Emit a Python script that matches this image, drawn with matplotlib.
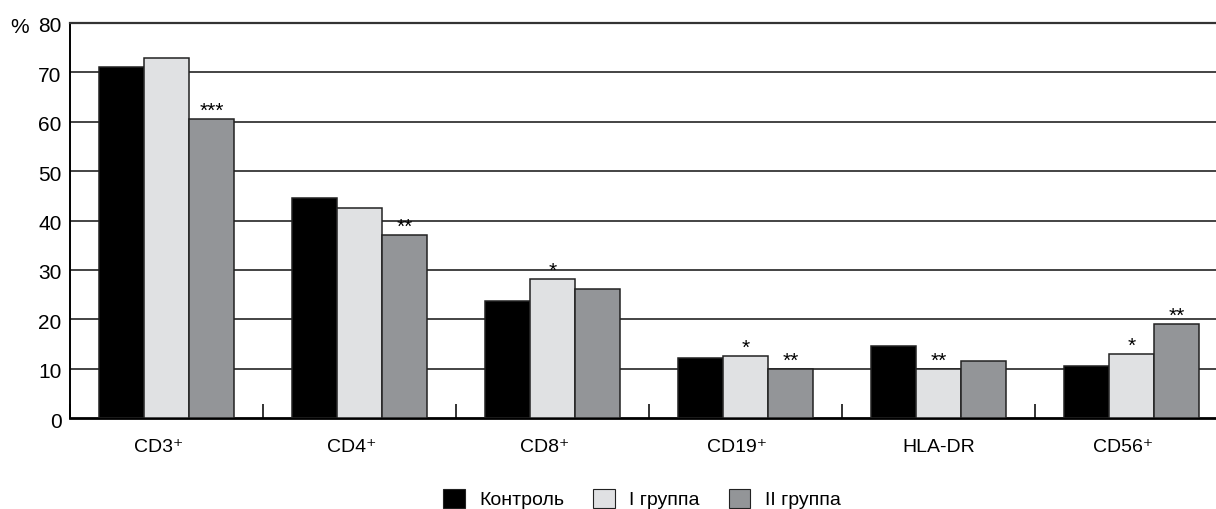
import matplotlib
matplotlib.use("Agg")
import matplotlib.pyplot as plt
import numpy as np
from matplotlib.patches import Patch
from matplotlib.transforms import ScaledTranslation

plt.rcParams['font.family'] = ['Liberation Sans Narrow', 'Liberation Sans', 'DejaVu Sans']

categories = ["CD3⁺", "CD4⁺", "CD8⁺", "CD19⁺", "HLA-DR", "CD56⁺"]
series_names = ["Контроль", "I группа", "II группа"]
control = [71.1, 44.6, 23.6, 12.2, 14.6, 10.6]
group1 = [73.0, 42.5, 28.1, 12.6, 10.0, 13.0]
group2 = [60.6, 37.0, 26.1, 10.0, 11.5, 19.0]
marks1 = ["", "", "*", "*", "**", "*"]
marks2 = ["***", "**", "", "**", "", "**"]
y_ticks = [0, 10, 20, 30, 40, 50, 60, 70, 80]

colors = ["#000000", "#e0e1e3", "#939598"]

W, H = 1216, 509
DPI = 100
fig = plt.figure(figsize=(W / DPI, H / DPI), dpi=DPI)
left_px, right_px, top_px, bottom_px = 70, 1216, 23, 418
ax = fig.add_axes([left_px / W, (H - bottom_px) / H,
                   (right_px - left_px) / W, (bottom_px - top_px) / H])


def px_shift(dx, dy):
    return ScaledTranslation(dx / DPI, dy / DPI, fig.dpi_scale_trans)


cat_w = 193.0
bar_w = 45.0 / cat_w
x = np.arange(len(categories)) + 0.5
series = [control, group1, group2]
for k, (vals, col) in enumerate(zip(series, colors)):
    ax.bar(x + (k - 1) * bar_w, vals, width=bar_w, color=col,
           edgecolor="#222222", linewidth=1.1, zorder=3)

# significance marks above the bars
for i in range(len(categories)):
    if marks1[i]:
        ax.text(x[i], group1[i], marks1[i], ha="center", va="baseline",
                fontsize=15, zorder=4, transform=ax.transData + px_shift(0, 2))
    if marks2[i]:
        ax.text(x[i] + bar_w, group2[i], marks2[i], ha="center",
                va="baseline", fontsize=15, zorder=4,
                transform=ax.transData + px_shift(0, 2))

ax.set_xlim(0, (right_px - left_px) / cat_w)
ax.set_ylim(0, 80)
ax.set_yticks(y_ticks)
ax.set_yticklabels([str(v) for v in y_ticks], fontsize=15)
ax.tick_params(axis="y", length=0, pad=6)
for lab in ax.get_yticklabels():
    lab.set_transform(lab.get_transform() + px_shift(0, -2))
for v in y_ticks[1:-1]:
    ax.axhline(v, color="#111111", linewidth=1.1, zorder=1)

# category boundary ticks and labels
ax.set_xticks(np.arange(0, len(categories)))
ax.set_xticklabels([])
ax.tick_params(axis="x", direction="in", length=10, width=1.2, color="#111111")
for i, c in enumerate(categories):
    dx = -8 if c.endswith("⁺") else 0
    ax.text(x[i], -6.9, c, ha="center", va="baseline", fontsize=14,
            transform=ax.transData + px_shift(dx, 0), clip_on=False)

ax.spines["right"].set_visible(False)
ax.spines["top"].set_color("#333333")
ax.spines["top"].set_linewidth(1.6)
ax.spines["left"].set_linewidth(1.4)
ax.spines["bottom"].set_linewidth(2.0)

fig.text(10 / W, 1 - 33 / H, "%", fontsize=15, ha="left", va="baseline")

handles = [Patch(facecolor=c, edgecolor="#222222", linewidth=0.8) for c in colors]
fig.legend(handles, series_names, loc="center", bbox_to_anchor=(0.528, 1 - 499 / H),
           ncol=3, frameon=False, fontsize=14, handlelength=1.1,
           handleheight=1.1, handletextpad=0.75, columnspacing=1.5,
           borderpad=0.0)

fig.savefig("out.png", dpi=DPI)
